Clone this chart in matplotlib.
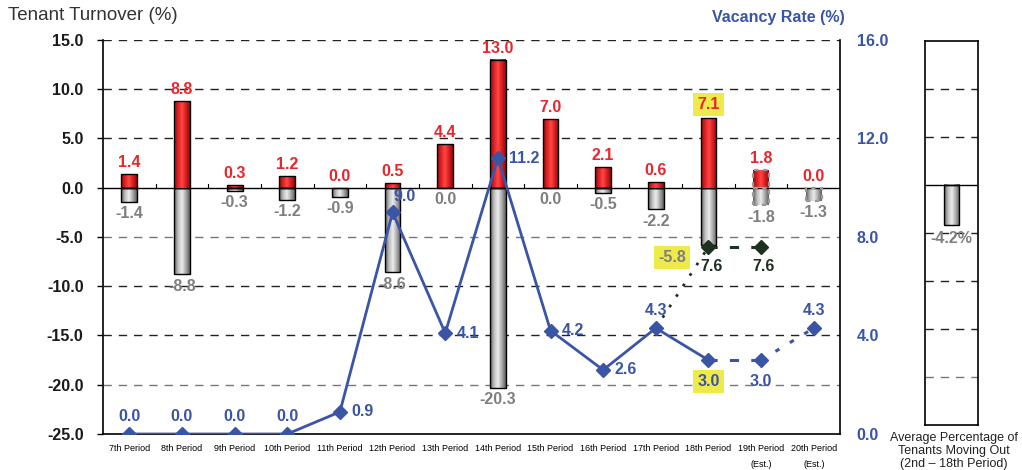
import numpy as np
import matplotlib.pyplot as plt
from matplotlib.colors import LinearSegmentedColormap
from matplotlib.patches import Rectangle

plt.rcParams['font.family'] = ['Liberation Sans', 'DejaVu Sans']

periods = ['7th Period', '8th Period', '9th Period', '10th Period', '11th Period',
           '12th Period', '13th Period', '14th Period', '15th Period', '16th Period',
           '17th Period', '18th Period', '19th Period\n(Est.)', '20th Period\n(Est.)']
move_in = [1.4, 8.8, 0.3, 1.2, 0.0, 0.5, 4.4, 13.0, 7.0, 2.1, 0.6, 7.1, 1.8, 0.0]
move_out = [-1.4, -8.8, -0.3, -1.2, -0.9, -8.6, 0.0, -20.3, 0.0, -0.5, -2.2, -5.8, -1.8, -1.3]
vacancy = [0.0, 0.0, 0.0, 0.0, 0.9, 9.0, 4.1, 11.2, 4.2, 2.6, 4.3, 3.0, 3.0, 4.3]
vacancy_alt_idx = [10, 11, 12]
vacancy_alt = [4.3, 7.6, 7.6]
avg_move_out = -4.2
est_from = 12

RED = '#e8262c'
GRAY_TXT = '#7f7f7f'
BLUE = '#3a55a6'
DKGREEN = '#1e3020'
YELLOW = '#eeea4a'

red_cmap = LinearSegmentedColormap.from_list('r', ['#8e0e10', '#e02024', '#ff4a45', '#d81c20', '#8e0e10'])
gray_cmap = LinearSegmentedColormap.from_list('g', ['#5e5e5e', '#bdbdbd', '#ececec', '#a8a8a8', '#5e5e5e'])
grad = np.linspace(0, 1, 64).reshape(1, -1)


def grad_bar(ax, x, h, w, cmap, est=False):
    if h == 0:
        return
    y0, y1 = min(0, h), max(0, h)
    ax.imshow(grad, cmap=cmap, extent=(x - w / 2, x + w / 2, y0, y1),
              aspect='auto', zorder=2, interpolation='bilinear')
    if est:
        ax.add_patch(Rectangle((x - w / 2, y0), w, y1 - y0, fill=False,
                               ec='#999999', lw=1.6, ls=(0, (2, 2)), zorder=3))
    else:
        ax.add_patch(Rectangle((x - w / 2, y0), w, y1 - y0, fill=False,
                               ec='black', lw=1.0, zorder=3))


fig = plt.figure(figsize=(10.22, 4.70), dpi=100)
ax = fig.add_axes([0.1008, 0.0766, 0.7212, 0.8383])
x = np.arange(len(periods))
w = 0.3

ax.set_xlim(-0.5, len(periods) - 0.5)
ax.set_ylim(-25, 15)

# dashed grid
for yv in [15, 10, 5, -5, -10, -15, -20]:
    c = '#777777' if yv in (-5, -20) else '#222222'
    ax.axhline(yv, color=c, lw=1.0, ls=(0, (6, 5)), zorder=1)
ax.axhline(0, color='black', lw=1.0, zorder=3)
for b in np.arange(0.5, len(periods) - 0.5, 1.0):
    ax.plot([b, b], [0, 0.35], color='black', lw=0.8, zorder=3)

for i in range(len(periods)):
    est = i >= est_from
    grad_bar(ax, x[i], move_in[i], w, red_cmap, est)
    grad_bar(ax, x[i], move_out[i], w, gray_cmap, est)

# bar value labels
for i in range(len(periods)):
    box = dict(boxstyle='square,pad=0.25', fc=YELLOW, ec='none') if i == 11 else None
    ax.annotate(f'{move_in[i]:.1f}', (x[i], max(move_in[i], 0)), xytext=(0, 4 if box else 3),
                textcoords='offset points', ha='center', va='bottom', color=RED,
                fontsize=11.5, fontweight='bold', bbox=box, zorder=6)
    if i == 11:
        ax.annotate(f'{move_out[i]:.1f}', (x[i], move_out[i]), xytext=(-26, -4),
                    textcoords='offset points', ha='center', va='top', color=GRAY_TXT,
                    fontsize=11.5, fontweight='bold', zorder=6,
                    bbox=dict(boxstyle='square,pad=0.25', fc=YELLOW, ec='none'))
    else:
        ax.annotate(f'{move_out[i]:.1f}', (x[i], min(move_out[i], 0)), xytext=(0, -3),
                    textcoords='offset points', ha='center', va='top', color=GRAY_TXT,
                    fontsize=11.5, fontweight='bold', zorder=6)

ax.set_xticks(x)
ax.set_xticklabels(periods, fontsize=6.5, linespacing=2.0, va='top')
ax.tick_params(axis='x', length=0, pad=7)
yt = [15, 10, 5, 0, -5, -10, -15, -20, -25]
ax.set_yticks(yt)
ax.set_yticklabels([f'{v:.1f}' for v in yt], fontsize=11.5, fontweight='bold', color='#1a1a1a')
ax.tick_params(axis='y', length=4, width=1, pad=10)
ax.spines['top'].set_visible(False)
for s in ['left', 'right', 'bottom']:
    ax.spines[s].set_linewidth(1.2)

# vacancy rate on the right axis
ax2 = ax.twinx()
ax2.set_ylim(0, 16)
ax2.set_yticks([0, 4, 8, 12, 16])
ax2.set_yticklabels([f'{v:.1f}' for v in [0, 4, 8, 12, 16]], fontsize=11.5,
                    fontweight='bold', color=BLUE)
ax2.tick_params(axis='y', length=0, pad=12)
for s in ax2.spines.values():
    s.set_visible(False)

ax2.plot(x[:est_from], vacancy[:est_from], color=BLUE, lw=2, zorder=4)
ax2.plot(x[11:13], vacancy[11:13], color=BLUE, lw=2.2, ls=(0, (3, 4)), zorder=4)
ax2.plot(x[12:14], vacancy[12:14], color=BLUE, lw=2.2, ls=(0, (1.5, 4)), zorder=4)
ax2.plot(x, vacancy, ls='none', marker='D', ms=7, color=BLUE, zorder=5)

ax2.plot(x[vacancy_alt_idx[:2]], vacancy_alt[:2], color=DKGREEN, lw=2, ls=(0, (1, 3.5)), zorder=4)
ax2.plot(x[vacancy_alt_idx[1:]], vacancy_alt[1:], color=DKGREEN, lw=2.2, ls=(0, (3, 4)), zorder=4)
ax2.plot(x[vacancy_alt_idx[1:]], vacancy_alt[1:], ls='none', marker='D', ms=7, color=DKGREEN, zorder=5)
for i, v in zip(vacancy_alt_idx[1:], vacancy_alt[1:]):
    ax2.annotate(f'{v:.1f}', (x[i], v), xytext=(2, -9), textcoords='offset points',
                 ha='center', va='top', color=DKGREEN, fontsize=11.5, fontweight='bold')

above = {0, 1, 2, 3, 10, 13}
below = {11, 12}
for i, v in enumerate(vacancy):
    lbl = f'{v:.1f}'
    kw = dict(textcoords='offset points', color=BLUE, fontsize=11.5, fontweight='bold', zorder=6)
    if i in above:
        ax2.annotate(lbl, (x[i], v), xytext=(0, 7), ha='center', va='bottom', **kw)
    elif i in below:
        box = dict(boxstyle='square,pad=0.25', fc=YELLOW, ec='none') if i == 11 else None
        ax2.annotate(lbl, (x[i], v), xytext=(0, -10), ha='center', va='top', bbox=box, **kw)
    elif i == 5:
        ax2.annotate(lbl, (x[i], v), xytext=(1, 6), ha='left', va='bottom', **kw)
    else:
        ax2.annotate(lbl, (x[i], v), xytext=(8, 0), ha='left', va='center', **kw)

fig.text(0.008, 0.966, 'Tenant Turnover (%)', fontsize=13.5, color='#333333', va='center')
fig.text(0.827, 0.962, 'Vacancy Rate (%)', fontsize=11.5, color=BLUE, fontweight='bold',
         ha='right', va='center')

# average move-out panel
axs = fig.add_axes([0.905, 0.0957, 0.0519, 0.8171])
axs.set_xlim(-1, 1)
axs.set_ylim(-25, 15)
for yv in [10, 5, -5, -10, -15, -20]:
    c = '#777777' if yv in (-20,) else '#222222'
    axs.axhline(yv, color=c, lw=1.0, ls=(0, (6, 5)), zorder=1)
axs.axhline(0, color='black', lw=1.0, zorder=3)
grad_bar(axs, 0, avg_move_out, 0.58, gray_cmap)
axs.annotate(f'{avg_move_out:.1f}%', (0, avg_move_out), xytext=(0, -4),
             textcoords='offset points', ha='center', va='top', color=GRAY_TXT,
             fontsize=11.5, fontweight='bold')
axs.set_xticks([])
axs.set_yticks([])
for s in axs.spines.values():
    s.set_linewidth(1.2)
fig.text(0.933, 0.08, 'Average Percentage of\nTenants Moving Out\n(2nd \u2013 18th Period)',
         fontsize=9, ha='center', va='top', linespacing=1.1, color='#222222')

fig.savefig('out.png', dpi=100)
